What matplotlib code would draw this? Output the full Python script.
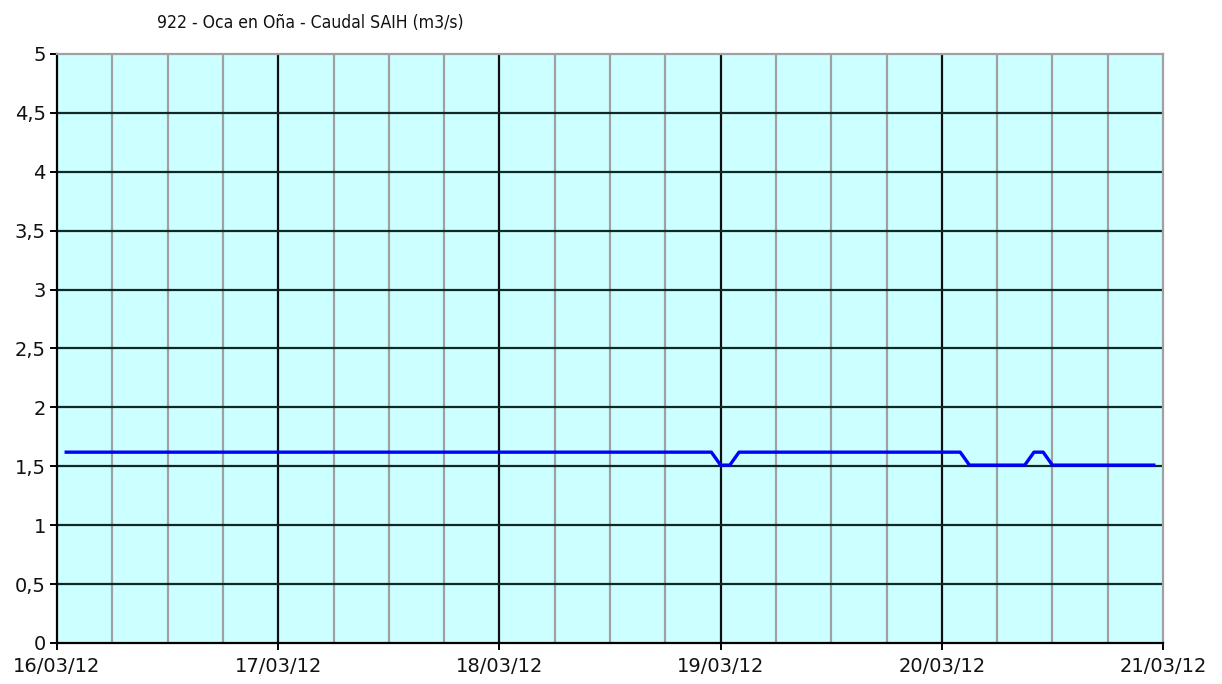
import matplotlib
matplotlib.use("Agg")
import matplotlib.pyplot as plt
import matplotlib.dates as mdates
from matplotlib.ticker import FixedLocator, FuncFormatter
import pandas as pd

title = "922 - Oca en Oña - Caudal SAIH (m3/s)"
times = ["2012-03-16 01:00", "2012-03-18 23:00", "2012-03-19 00:00", "2012-03-19 01:00",
         "2012-03-19 02:00", "2012-03-20 02:00", "2012-03-20 03:00", "2012-03-20 09:00",
         "2012-03-20 10:00", "2012-03-20 11:00", "2012-03-20 12:00", "2012-03-20 23:00"]
caudal = [1.62, 1.62, 1.51, 1.51, 1.62, 1.62, 1.51, 1.51, 1.62, 1.62, 1.51, 1.51]
day_ticks = ["2012-03-16", "2012-03-17", "2012-03-18", "2012-03-19", "2012-03-20", "2012-03-21"]
y_ticks = [0, 0.5, 1, 1.5, 2, 2.5, 3, 3.5, 4, 4.5, 5]

t = pd.to_datetime(times)
days = pd.to_datetime(day_ticks)

plt.rcParams['font.family'] = ['DejaVu Sans']

fig = plt.figure(figsize=(12.22, 6.84), dpi=100)
ax = fig.add_axes([57/1222, 41/684, (1163-57)/1222, (643-54)/684])
ax.set_facecolor("#ccffff")

# minor vertical grid every 6 hours
six_h = pd.date_range(days[0], days[-1], freq="6h")
for d in six_h:
    if d not in days:
        ax.axvline(d, color="#a0a0a0", lw=1.6, zorder=1)
for d in days[1:-1]:
    ax.axvline(d, color="#101010", lw=1.6, zorder=2)
for y in y_ticks[1:-1]:
    ax.axhline(y, color="#102828", lw=1.6, zorder=2)

ax.plot(t, caudal, color="#0000ff", lw=2.4, zorder=3, solid_joinstyle="round")

ax.set_xlim(days[0], days[-1])
ax.set_ylim(0, 5)
ax.xaxis.set_major_locator(FixedLocator(mdates.date2num(days)))
ax.xaxis.set_major_formatter(FuncFormatter(lambda v, p: mdates.num2date(v).strftime("%d/%m/%y")))
ax.yaxis.set_major_locator(FixedLocator(y_ticks))
ax.yaxis.set_major_formatter(FuncFormatter(lambda v, p: ("%g" % v).replace(".", ",")))

for s in ["top", "right"]:
    ax.spines[s].set_color("#a0a0a0")
    ax.spines[s].set_linewidth(1.6)
for s in ["left", "bottom"]:
    ax.spines[s].set_color("black")
    ax.spines[s].set_linewidth(1.6)

ax.tick_params(axis="both", direction="out", length=5, width=1.4, color="black",
               labelsize=14, labelcolor="#111111")
ax.tick_params(axis="y", pad=3)
ax.tick_params(axis="x", pad=5)

fig.text(310/1222, 1 - 23/684, title, ha="center", va="center", fontsize=12.6,
         family=["DejaVu Sans"], fontstretch="condensed", color="#111111")

fig.savefig("out.png", dpi=100, facecolor="white")
